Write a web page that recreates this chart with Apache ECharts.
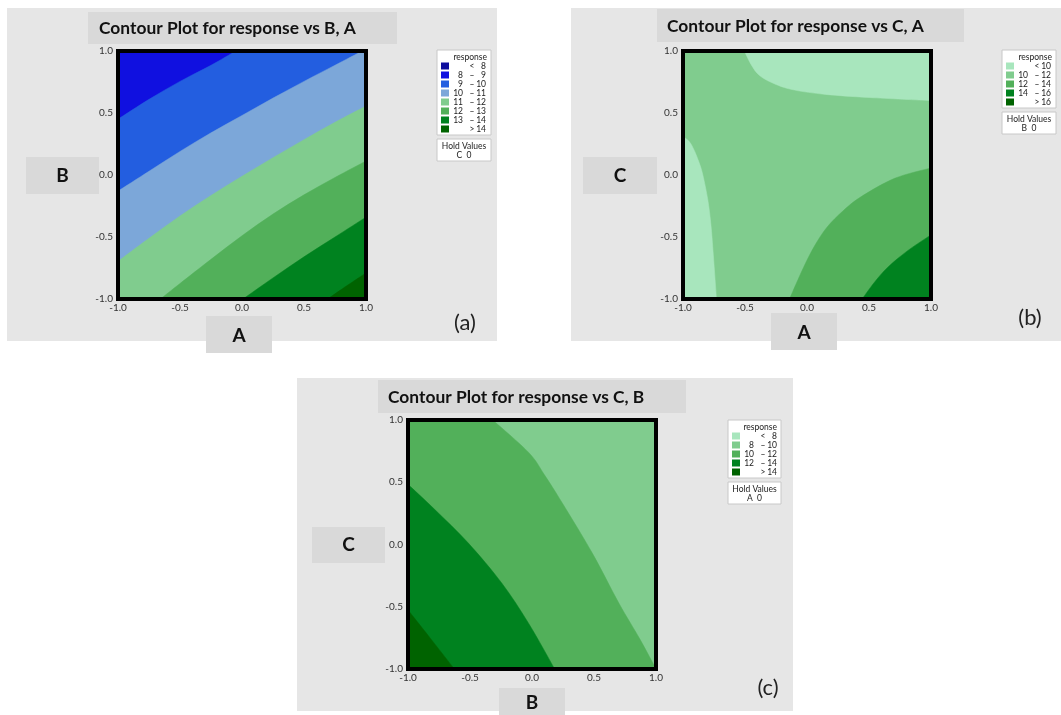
<!DOCTYPE html>
<html>
<head>
<meta charset="utf-8">
<script src="https://cdn.jsdelivr.net/npm/echarts@6/dist/echarts.min.js"></script>
<style>
  html, body { margin: 0; padding: 0; background: #fff; }
  #chart { width: 1061px; height: 715px; }
</style>
</head>
<body>
<div id="chart"></div>
<script>
// ---- data ----------------------------------------------------------------
const ticks = [-1, -0.5, 0, 0.5, 1];

// (a) response vs B, A  (C held at 0)
const levelsA = [8, 9, 10, 11, 12, 13, 14];
const colorsA = ['#0d0d9e', '#1010e0', '#235ee0', '#7ca7d9', '#80cc8e', '#52b05a', '#00821f', '#006300'];
const contourA9  = [[-1, 0.45], [-0.75, 0.61], [-0.5, 0.755], [-0.25, 0.885], [-0.05, 1]];
const contourA10 = [[-1, -0.13], [-0.75, 0.03], [-0.5, 0.19], [-0.25, 0.34], [0, 0.48], [0.25, 0.62], [0.5, 0.755], [0.75, 0.885], [0.97, 1]];
const contourA11 = [[-1, -0.696], [-0.75, -0.51], [-0.5, -0.33], [-0.25, -0.165], [0, -0.01], [0.25, 0.14], [0.5, 0.285], [0.75, 0.425], [1, 0.556]];
const contourA12 = [[-0.658, -1], [-0.5, -0.875], [-0.25, -0.68], [0, -0.49], [0.25, -0.315], [0.5, -0.16], [0.75, -0.02], [1, 0.113]];
const contourA13 = [[0.008, -1], [0.25, -0.83], [0.5, -0.66], [0.75, -0.5], [1, -0.34]];
const contourA14 = [[0.69, -1], [0.85, -0.89], [1, -0.79]];

// (b) response vs C, A  (B held at 0)
const levelsB = [10, 12, 14, 16];
const colorsB = ['#a8e6bd', '#80cc8e', '#52b05a', '#00821f', '#006300'];
const contourB10top  = [[-0.505, 1], [-0.45, 0.89], [-0.38, 0.8], [-0.25, 0.73], [-0.1, 0.685], [0.15, 0.65], [0.5, 0.625], [1, 0.6]];
const contourB10left = [[-1, 0.31], [-0.95, 0.27], [-0.91, 0.2], [-0.87, 0.1], [-0.84, 0], [-0.8, -0.2], [-0.775, -0.4], [-0.755, -0.65], [-0.73, -1]];
const contourB12 = [[-0.141, -1], [-0.027, -0.743], [0.065, -0.565], [0.163, -0.419], [0.29, -0.29], [0.435, -0.176], [0.707, -0.027], [1, 0.057]];
const contourB14 = [[0.445, -1], [0.54, -0.87], [0.652, -0.743], [0.815, -0.608], [1, -0.483]];

// (c) response vs C, B  (A held at 0)
const levelsC = [8, 10, 12, 14];
const colorsC = ['#a8e6bd', '#80cc8e', '#52b05a', '#00821f', '#006300'];
const contourC10 = [[-0.317, 1], [-0.027, 0.739], [0.1, 0.56], [0.243, 0.335], [0.486, -0.069], [0.7, -0.47], [0.87, -0.76], [1, -1]];
const contourC12 = [[-1, 0.483], [-0.784, 0.281], [-0.514, 0.012], [-0.243, -0.311], [-0.027, -0.634], [0.183, -1]];
const contourC14 = [[-1, -0.526], [-0.83, -0.74], [-0.626, -1]];

const titles = ['Contour Plot for response vs B, A', 'Contour Plot for response vs C, A', 'Contour Plot for response vs C, B'];
const xNames = ['A', 'A', 'B'];
const yNames = ['B', 'C', 'C'];
const holdValues = ['C  0', 'B  0', 'A  0'];
const tags = ['(a)', '(b)', '(c)'];

// ---- panel set-up ----------------------------------------------------------
// each region: area beyond a contour line, on the side holding the given corner
const panels = [
  {
    levels: levelsA, colors: colorsA, base: 1,
    regions: [[contourA9, [1, -1], 2], [contourA10, [1, -1], 3], [contourA11, [1, -1], 4],
              [contourA12, [1, -1], 5], [contourA13, [1, -1], 6], [contourA14, [1, -1], 7]],
    layout: { panel: [7, 8, 490, 333], title: [88, 12, 309, 32], titleX: 99, titleY: 28,
              ylab: [26, 157, 73, 37], xlab: [206, 316, 66, 37], tag: [465, 323],
              legend: [437, 50, 54, 85], hold: [437, 139, 54, 22], grid: [118, 51, 248, 248] }
  },
  {
    levels: levelsB, colors: colorsB, base: 1,
    regions: [[contourB10top, [1, 1], 0], [contourB10left, [-1, -1], 0],
              [contourB12, [1, -1], 2], [contourB14, [1, -1], 3]],
    layout: { panel: [571, 8, 490, 333], title: [657, 9, 307, 33], titleX: 667, titleY: 26,
              ylab: [583, 157, 74, 37], xlab: [771, 313, 66, 37], tag: [1030, 318],
              legend: [1002, 50, 54, 58], hold: [1002, 112, 54, 22], grid: [683, 51, 248, 248] }
  },
  {
    levels: levelsC, colors: colorsC, base: 1,
    regions: [[contourC10, [-1, -1], 2], [contourC12, [-1, -1], 3], [contourC14, [-1, -1], 4]],
    layout: { panel: [297, 378, 496, 333], title: [378, 380, 308, 33], titleX: 388, titleY: 397,
              ylab: [312, 527, 73, 36], xlab: [499, 688, 66, 27], tag: [768, 688],
              legend: [728, 420, 53, 58], hold: [728, 482, 53, 22], grid: [408, 420, 248, 249] }
  }
];

// ---- closing a contour line along the square's border ----------------------
const CORNERS = [[0, [-1, -1]], [2, [1, -1]], [4, [1, 1]], [6, [-1, 1]]];
function perim(p) {
  const x = p[0], y = p[1], e = 1e-6;
  if (Math.abs(y + 1) < e) return x + 1;
  if (Math.abs(x - 1) < e) return 3 + y;
  if (Math.abs(y - 1) < e) return 5 - x;
  return 7 - y;
}
function walk(from, to, dir) {
  const mod = v => ((v % 8) + 8) % 8;
  const span = dir > 0 ? mod(to - from) : mod(from - to);
  return CORNERS
    .map(([t, c]) => [dir > 0 ? mod(t - from) : mod(from - t), c])
    .filter(([d]) => d > 1e-9 && d < span - 1e-9)
    .sort((a, b) => a[0] - b[0])
    .map(([, c]) => c);
}
function closingCorners(line, toward) {
  const tS = perim(line[0]), tE = perim(line[line.length - 1]);
  let corners = walk(tE, tS, 1);
  if (!corners.some(c => c[0] === toward[0] && c[1] === toward[1])) corners = walk(tE, tS, -1);
  return corners;
}
const SQUARE = [[-1, -1], [1, -1], [1, 1], [-1, 1]];

// smooth path through the contour points (Catmull-Rom as cubic Béziers),
// then straight along the border corners back to the start
function regionPath(px, cornersPx) {
  const f = v => v.toFixed(2);
  let d = 'M' + f(px[0][0]) + ' ' + f(px[0][1]);
  for (let i = 0; i < px.length - 1; i++) {
    const p0 = px[Math.max(i - 1, 0)], p1 = px[i], p2 = px[i + 1], p3 = px[Math.min(i + 2, px.length - 1)];
    const c1 = [p1[0] + (p2[0] - p0[0]) / 6, p1[1] + (p2[1] - p0[1]) / 6];
    const c2 = [p2[0] - (p3[0] - p1[0]) / 6, p2[1] - (p3[1] - p1[1]) / 6];
    d += 'C' + f(c1[0]) + ' ' + f(c1[1]) + ' ' + f(c2[0]) + ' ' + f(c2[1]) + ' ' + f(p2[0]) + ' ' + f(p2[1]);
  }
  cornersPx.forEach(c => { d += 'L' + f(c[0]) + ' ' + f(c[1]); });
  return d + 'Z';
}

function contourSeries(p, idx) {
  const items = [{ square: true, color: p.colors[p.base] }]
    .concat(p.regions.map(([line, toward, band]) => ({ line: line, corners: closingCorners(line, toward), color: p.colors[band] })))
    .concat([{ frame: true }]);
  return {
    type: 'custom',
    coordinateSystem: 'cartesian2d',
    xAxisIndex: idx,
    yAxisIndex: idx,
    silent: true,
    animation: false,
    data: items.map((_, i) => [0, 0, i]),
    renderItem(params, api) {
      const it = items[params.dataIndex];
      if (it.frame) {
        const a = api.coord([-1, 1]), b = api.coord([1, -1]);
        return { type: 'rect', shape: { x: a[0], y: a[1], width: b[0] - a[0], height: b[1] - a[1] },
                 style: { fill: 'none', stroke: '#000', lineWidth: 4 } };
      }
      if (it.square) {
        return { type: 'polygon', shape: { points: SQUARE.map(q => api.coord(q)) }, style: { fill: it.color } };
      }
      const d = regionPath(it.line.map(q => api.coord(q)), it.corners.map(q => api.coord(q)));
      return { type: 'path', shape: { pathData: d }, style: { fill: it.color, stroke: it.color, lineWidth: 0.5 } };
    }
  };
}

// ---- decorations: panel boxes, titles, labels, legend tables ---------------
const FONT = 'Lato, "Open Sans", sans-serif';
function rect(r, fill, stroke) {
  return { type: 'rect', shape: { x: r[0], y: r[1], width: r[2], height: r[3] },
           style: { fill: fill, stroke: stroke || null, lineWidth: stroke ? 1 : 0 }, silent: true };
}
function text(x, y, str, font, align, fill) {
  return { type: 'text', x: x, y: y, silent: true,
           style: { text: str, font: font, fill: fill || '#1a1a1a', align: align || 'center', verticalAlign: 'middle' } };
}
function decorations(p, i) {
  const L = p.layout, els = [];
  els.push(rect(L.panel, '#e6e6e6'));
  els.push(rect(L.title, '#d9d9d9'));
  els.push(text(L.titleX, L.titleY, titles[i], 'bold 17.4px ' + FONT, 'left', '#111'));
  els.push(rect(L.ylab, '#d9d9d9'));
  els.push(text(L.ylab[0] + L.ylab[2] / 2, L.ylab[1] + L.ylab[3] / 2, yNames[i], 'bold 19px ' + FONT, 'center', '#111'));
  els.push(rect(L.xlab, '#d9d9d9'));
  els.push(text(L.xlab[0] + L.xlab[2] / 2, L.xlab[1] + L.xlab[3] / 2 + 1, xNames[i], 'bold 19px ' + FONT, 'center', '#111'));
  els.push(text(L.tag[0], L.tag[1], tags[i], '22px ' + FONT, 'center', '#222'));

  // legend table built from the contour levels and band colours
  const g = L.legend, f = '8.5px ' + FONT;
  els.push(rect(g, '#ffffff', '#c8c8c8'));
  els.push(text(g[0] + g[2] - 4, g[1] + 7, 'response', f, 'right', '#222'));
  const n = p.levels.length;
  for (let k = 0; k <= n; k++) {
    const cy = g[1] + 16 + k * 9;
    els.push(rect([g[0] + 4, cy - 3.5, 8, 7], p.colors[k]));
    if (k === 0) {
      els.push(text(g[0] + 35, cy, '<', f, 'center', '#222'));
      els.push(text(g[0] + 49, cy, String(p.levels[0]), f, 'right', '#222'));
    } else if (k === n) {
      els.push(text(g[0] + 35, cy, '>', f, 'center', '#222'));
      els.push(text(g[0] + 49, cy, String(p.levels[n - 1]), f, 'right', '#222'));
    } else {
      els.push(text(g[0] + 26, cy, String(p.levels[k - 1]), f, 'right', '#222'));
      els.push(text(g[0] + 35, cy, '–', f, 'center', '#222'));
      els.push(text(g[0] + 49, cy, String(p.levels[k]), f, 'right', '#222'));
    }
  }
  const h = L.hold;
  els.push(rect(h, '#ffffff', '#c8c8c8'));
  els.push(text(h[0] + h[2] / 2, h[1] + 7, 'Hold Values', f, 'center', '#222'));
  els.push(text(h[0] + h[2] / 2, h[1] + 16, holdValues[i], f, 'center', '#222'));
  return els;
}

// ---- axes ------------------------------------------------------------------
function axis(i, isX) {
  return {
    gridIndex: i, type: 'value', min: -1, max: 1, interval: 0.5,
    axisLine: { show: false },
    axisTick: { show: true, length: 3, lineStyle: { color: '#777' }, customValues: ticks },
    axisLabel: { fontSize: 10, color: '#333', fontFamily: FONT, margin: isX ? 4 : 5,
                 customValues: ticks, formatter: v => v.toFixed(1) },
    splitLine: { show: false }
  };
}

const chart = echarts.init(document.getElementById('chart'), null, { renderer: 'canvas' });
chart.setOption({
  backgroundColor: '#ffffff',
  animation: false,
  grid: panels.map(p => ({ left: p.layout.grid[0], top: p.layout.grid[1],
                           width: p.layout.grid[2], height: p.layout.grid[3], containLabel: false })),
  xAxis: panels.map((p, i) => axis(i, true)),
  yAxis: panels.map((p, i) => axis(i, false)),
  series: panels.map((p, i) => contourSeries(p, i)),
  graphic: { elements: panels.flatMap((p, i) => decorations(p, i)) }
});
</script>
</body>
</html>
